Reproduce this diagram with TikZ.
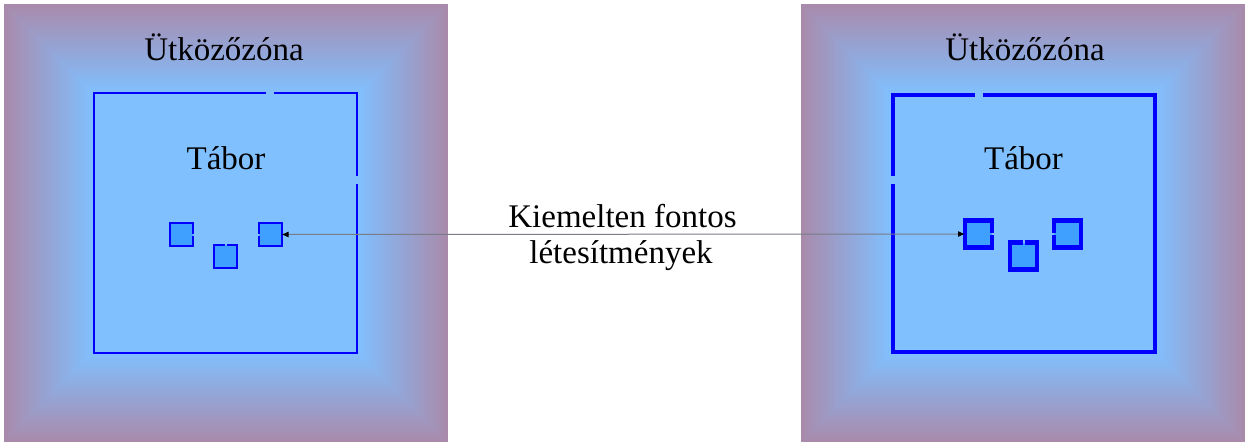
\documentclass[tikz,border=0pt]{standalone}
\usepackage{fontspec}
\setmainfont{Liberation Serif}
\usetikzlibrary{calc,arrows.meta}
\definecolor{outerc}{RGB}{169,138,171}
\definecolor{innerc}{RGB}{128,192,255}
\definecolor{smallc}{RGB}{64,160,255}
\definecolor{edgec}{RGB}{0,0,255}
\definecolor{connc}{RGB}{120,125,135}
\tikzset{
  lbl/.style={font=\fontsize{33}{31}\selectfont, inner sep=0pt, anchor=base},
  sboxl/.style={fill=smallc, draw=none, minimum size=23pt, inner sep=0pt, outer sep=0pt},
  sboxr/.style={fill=smallc, draw=none, minimum size=27pt, inner sep=0pt, outer sep=0pt},
  thinedge/.style={draw=edgec, line width=2pt},
  thickedge/.style={draw=edgec, line width=4.5pt},
  conn/.style={draw=connc, line width=1pt, {Latex[length=7pt,width=6pt,color=black]}-{Latex[length=7pt,width=6pt,color=black]}}
}
\newcommand\zonebg[4]{%
  \foreach \i in {0,...,45}{%
    \pgfmathtruncatemacro\pp{100-\i*100/45}%
    \pgfmathsetmacro\ins{\i*2}%
    \fill[outerc!\pp!innerc] (#1+\ins,#2+\ins) rectangle (#3-\ins,#4-\ins);
  }}
\begin{document}
\begin{tikzpicture}[x=1pt,y=-1pt]
\useasboundingbox (0,0) rectangle (1249,447);
\fill[white] (0,0) rectangle (1249,447);
% buffer zones
\zonebg{4}{4}{448}{442}
\zonebg{801}{4}{1245}{442}
% camp areas
\fill[innerc] (94,93) rectangle (357,353);
\fill[innerc] (893,95) rectangle (1155,352);
% left camp outline
\draw[thinedge] (357,184) -- (357,353) -- (94,353) -- (94,93) -- (266,93);
\draw[thinedge] (274,93) -- (357,93) -- (357,176);
% right camp outline
\draw[thickedge] (983,95) -- (1155,95) -- (1155,352) -- (893,352) -- (893,184);
\draw[thickedge] (893,176) -- (893,95) -- (975,95);
% labels
\node[lbl] (z1) at (224,60) {Ütközőzóna};
\node[lbl] (z2) at (1025,60) {Ütközőzóna};
\node[lbl] (t1) at (226,169) {Tábor};
\node[lbl] (t2) at (1023.5,169) {Tábor};
\node[lbl] (k1) at (622.5,227) {Kiemelten fontos};
\node[lbl] (k2) at (621,263) {létesítmények};
% small facilities, left
\node[sboxl] (l1) at (181.5,234.5) {};
\node[sboxl] (l2) at (225.5,256) {};
\node[sboxl] (l3) at (270,234.5) {};
\draw[thinedge] ($(l1.east)+(0,1)$) -- (l1.south east) -- (l1.south west) -- (l1.north west) -- (l1.north east) -- ($(l1.east)+(0,-1)$);
\draw[thinedge] ($(l2.north)+(1,0)$) -- (l2.north east) -- (l2.south east) -- (l2.south west) -- (l2.north west) -- ($(l2.north)+(-1,0)$);
\draw[thinedge] ($(l3.west)+(0,-1)$) -- (l3.north west) -- (l3.north east) -- (l3.south east) -- (l3.south west) -- ($(l3.west)+(0,1)$);
% small facilities, right
\node[sboxr] (r1) at (978.5,234) {};
\node[sboxr] (r2) at (1023.5,256) {};
\node[sboxr] (r3) at (1067.5,234) {};
\draw[thickedge] ($(r1.east)+(0,1)$) -- (r1.south east) -- (r1.south west) -- (r1.north west) -- (r1.north east) -- ($(r1.east)+(0,-1)$);
\draw[thickedge] ($(r2.north)+(1,0)$) -- (r2.north east) -- (r2.south east) -- (r2.south west) -- (r2.north west) -- ($(r2.north)+(-1,0)$);
\draw[thickedge] ($(r3.west)+(0,-1)$) -- (r3.north west) -- (r3.north east) -- (r3.south east) -- (r3.south west) -- ($(r3.west)+(0,1)$);
% connector
\draw[conn] (l3.east) -- (r1.west);
\end{tikzpicture}
\end{document}
